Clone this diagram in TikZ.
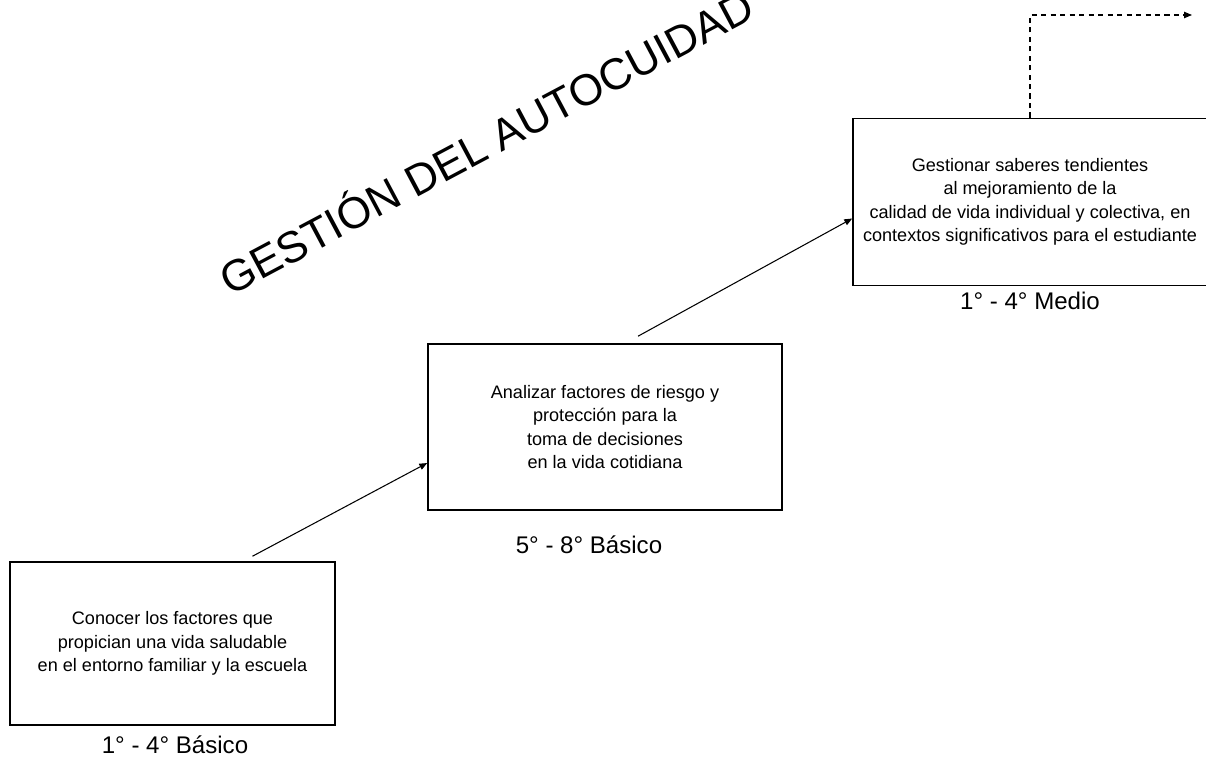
\documentclass[tikz,border=0pt]{standalone}
\usepackage{fontspec}
\setmainfont{Liberation Sans}
\usetikzlibrary{arrows.meta}

\begin{document}
\begin{tikzpicture}[x=0.02cm,y=0.02cm]
\tikzstyle{every node}+=[inner sep=0pt]
\tikzstyle{stage}=[draw=black,line width=0.9pt,align=center,font=\fontsize{10.3}{13.4}\selectfont]
\tikzstyle{level}=[font=\fontsize{13.7}{16}\selectfont]
\tikzstyle{link}=[black,line width=0.6pt,-{Triangle[length=4.5pt,width=3.6pt]}]
\useasboundingbox (0,0) rectangle (1206,-757);
\node [black,rotate=28,anchor=base west,font=\fontsize{25}{30}\selectfont] (titulo) at (230,-297) {GESTIÓN DEL AUTOCUIDAD};
\node [stage,minimum width=6.5cm,minimum height=3.26cm] (basico1) at (172.5,-643.5) {Conocer los factores que\\propician una vida saludable\\en el entorno familiar y la escuela};
\node [level] (lbasico1) at (175,-745) {1° - 4° Básico};
\node [stage,minimum width=7.08cm,minimum height=3.32cm] (basico5) at (605,-427) {Analizar factores de riesgo y\\protección para la\\toma de decisiones\\en la vida cotidiana};
\node [level] (lbasico5) at (589,-545) {5° - 8° Básico};
\node [stage,minimum width=7.08cm,minimum height=3.34cm] (medio1) at (1030,-202) {Gestionar saberes tendientes\\al mejoramiento de la\\calidad de vida individual y colectiva, en\\contextos significativos para el estudiante};
\node [level] (lmedio1) at (1030,-301) {1° - 4° Medio};
\coordinate (salida) at (1192,-15);
\draw [link] ([xshift=1.6cm,yshift=0.1cm]basico1.north) -- ([yshift=-0.72cm]basico5.west);
\draw [link] ([xshift=0.66cm,yshift=0.14cm]basico5.north) -- ([yshift=-0.33cm]medio1.west);
\draw [link,dash pattern=on 3pt off 2.4pt] (medio1.north) |- (salida);
\end{tikzpicture}
\end{document}
